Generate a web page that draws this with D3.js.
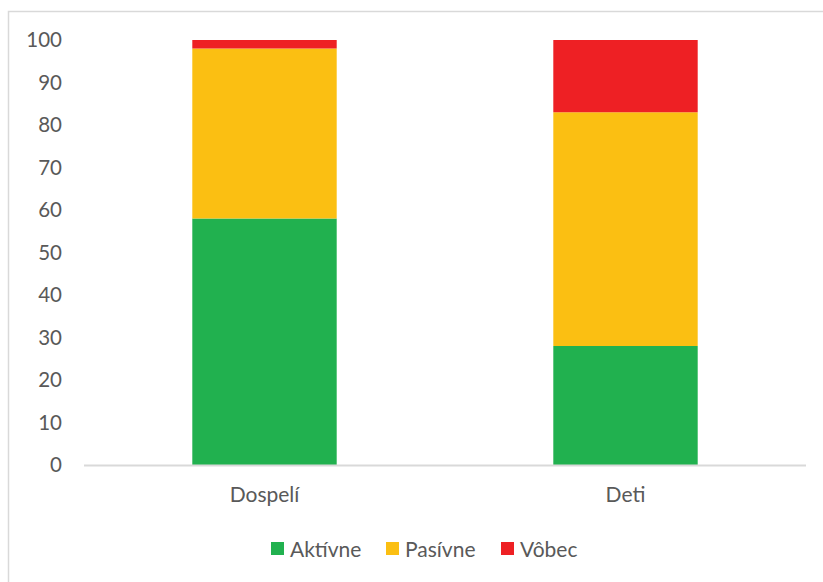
<!DOCTYPE html>
<html><head><meta charset="utf-8">
<script src="https://cdn.jsdelivr.net/npm/d3@7"></script>
<style>body{margin:0;background:#fff}svg{display:block}text{font-family:Lato,"Open Sans",sans-serif;fill:#595959}</style>
</head><body>
<script>
const categories = ["Dospelí", "Deti"];
const seriesNames = ["Aktívne", "Pasívne", "Vôbec"];
const aktivne = [58, 28];
const pasivne = [40, 55];
const vobec = [2, 17];
const yTicks = [0,10,20,30,40,50,60,70,80,90,100];
const colors = ["#21B14F", "#FBBF12", "#EE2024"];

const W = 823, H = 582;
const svg = d3.select("body").append("svg").attr("width", W).attr("height", H);
svg.append("rect").attr("x", 8.5).attr("y", 11.5).attr("width", 830).attr("height", 580)
  .attr("fill", "none").attr("stroke", "#d9d9d9").attr("stroke-width", 1.5);

const x = d3.scaleBand().domain(categories).range([84, 806]).paddingInner(0.6).paddingOuter(0.3);
const y = d3.scaleLinear().domain([0, 100]).range([465, 40]);

const rows = categories.map((c, i) => ({cat: c, "Aktívne": aktivne[i], "Pasívne": pasivne[i], "Vôbec": vobec[i]}));
const stack = d3.stack().keys(seriesNames)(rows);

svg.append("g").selectAll("g").data(stack).join("g")
  .attr("fill", (d, i) => colors[i])
  .selectAll("rect").data(d => d).join("rect")
  .attr("x", d => x(d.data.cat)).attr("width", x.bandwidth())
  .attr("y", d => y(d[1])).attr("height", d => y(d[0]) - y(d[1]));

// x axis line
svg.append("line").attr("x1", 84).attr("x2", 806).attr("y1", 465.5).attr("y2", 465.5)
  .attr("stroke", "#d9d9d9").attr("stroke-width", 2);

// y tick labels
const yAxis = d3.axisLeft(y).tickValues(yTicks).tickSize(0).tickPadding(0);
const ga = svg.append("g").attr("transform", "translate(62,0)").call(yAxis);
ga.select(".domain").remove();
ga.selectAll("text").attr("font-size", 20.5).style("fill", "#595959").attr("font-family", "Lato, sans-serif");

// category labels
const xAxis = d3.axisBottom(x).tickSize(0).tickPadding(0);
const gx = svg.append("g").attr("transform", "translate(0,487)").call(xAxis);
gx.select(".domain").remove();
gx.selectAll("text").attr("font-size", 21).style("fill", "#595959").attr("font-family", "Lato, sans-serif");

// legend
const legX = [271, 386, 501];
const lg = svg.append("g").selectAll("g").data(seriesNames).join("g")
  .attr("transform", (d, i) => `translate(${legX[i]},542)`);
lg.append("rect").attr("width", 13).attr("height", 13).attr("fill", (d, i) => colors[i]);
lg.append("text").attr("x", 19).attr("y", 7).attr("dy", "0.36em").attr("font-size", 21).text(d => d);
</script>
</body></html>
